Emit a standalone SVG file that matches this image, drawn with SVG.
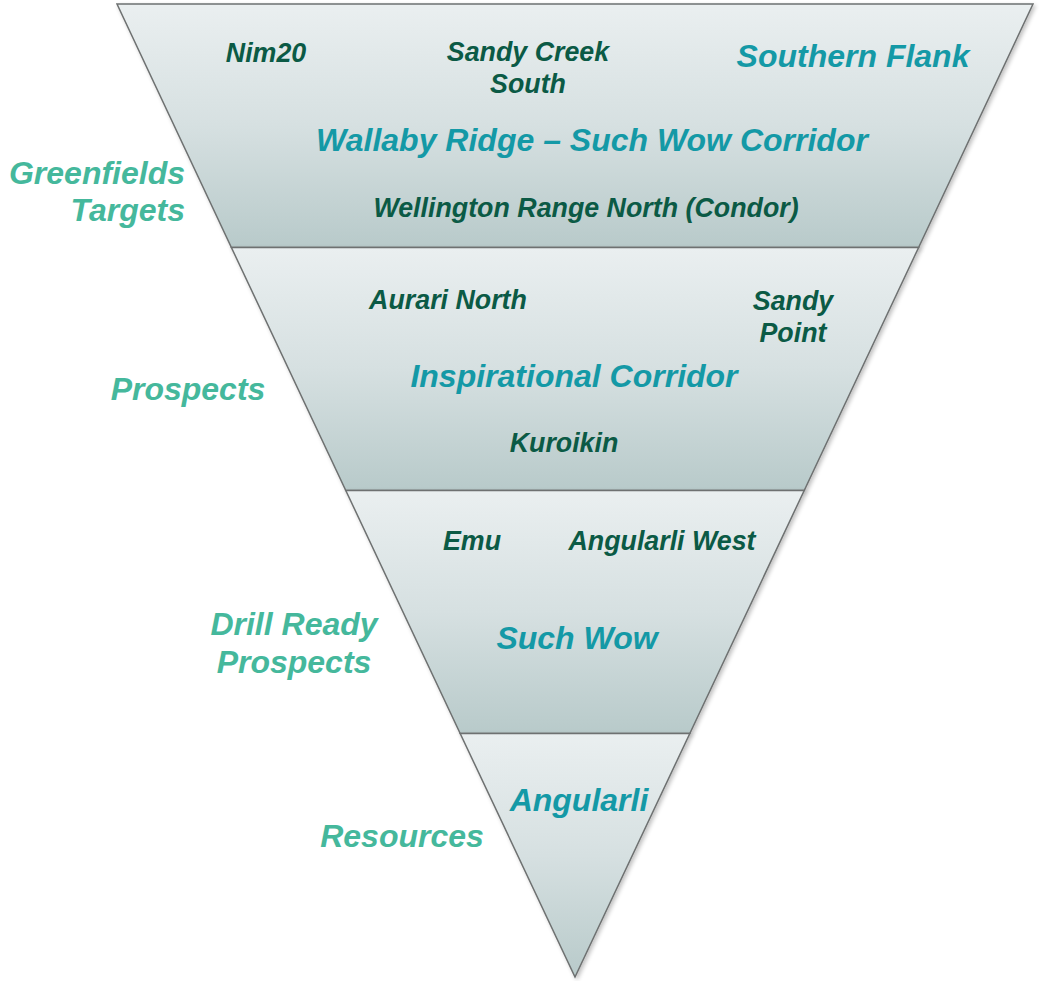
<svg xmlns="http://www.w3.org/2000/svg" width="1039" height="981" viewBox="0 0 1039 981">
  <defs>
    <linearGradient id="bandFill" x1="0" y1="0" x2="0" y2="1">
      <stop offset="0" stop-color="#eaeff0"/>
      <stop offset="0.5" stop-color="#d6e0e1"/>
      <stop offset="1" stop-color="#b8caca"/>
    </linearGradient>
    <filter id="soft" x="-5%" y="-5%" width="110%" height="115%">
      <feGaussianBlur in="SourceAlpha" stdDeviation="2"/>
      <feOffset dx="2" dy="2" result="b"/>
      <feComponentTransfer><feFuncA type="linear" slope="0.25"/></feComponentTransfer>
      <feMerge><feMergeNode/><feMergeNode in="SourceGraphic"/></feMerge>
    </filter>
  </defs>
  <style>
    text { font-family: "Liberation Sans", Arial, sans-serif; font-weight: bold; font-style: italic; }
    .band { fill: url(#bandFill); stroke: #6e7171; stroke-width: 1.5; filter: url(#soft); }
    .big { font-size: 32px; fill: #1499a6; text-anchor: middle; }
    .small { font-size: 26.8px; fill: #0b5a45; text-anchor: middle; }
    .side { font-size: 32px; fill: #45b89c; }
  </style>

  <!-- funnel bands, top to bottom -->
  <g id="band-greenfields">
    <polygon class="band" points="117,4 1033,4 918.6,247.5 231.4,247.5"/>
    <text class="small" x="266" y="62">Nim20</text>
    <text class="small" x="528" y="61">Sandy Creek</text>
    <text class="small" x="528" y="93">South</text>
    <text class="big" x="853" y="67">Southern Flank</text>
    <text class="big" x="592" y="151">Wallaby Ridge – Such Wow Corridor</text>
    <text class="small" x="586" y="217">Wellington Range North (Condor)</text>
  </g>
  <g id="band-prospects">
    <polygon class="band" points="231.4,247.5 918.6,247.5 804.2,490.5 345.8,490.5"/>
    <text class="small" x="448" y="309">Aurari North</text>
    <text class="small" x="793" y="310">Sandy</text>
    <text class="small" x="793" y="342">Point</text>
    <text class="big" x="574" y="387">Inspirational Corridor</text>
    <text class="small" x="564" y="452">Kuroikin</text>
  </g>
  <g id="band-drill-ready">
    <polygon class="band" points="345.8,490.5 804.2,490.5 689.8,733.5 460.2,733.5"/>
    <text class="small" x="472" y="550">Emu</text>
    <text class="small" x="662" y="550">Angularli West</text>
    <text class="big" x="577" y="649">Such Wow</text>
  </g>
  <g id="band-resources">
    <polygon class="band" points="460.2,733.5 689.8,733.5 575,977"/>
    <text class="big" x="579" y="811">Angularli</text>
  </g>

  <!-- stage labels -->
  <g id="stage-labels">
    <text class="side" x="185" y="184" text-anchor="end">Greenfields</text>
    <text class="side" x="185" y="221" text-anchor="end">Targets</text>
    <text class="side" x="188" y="400" text-anchor="middle">Prospects</text>
    <text class="side" x="294" y="635" text-anchor="middle">Drill Ready</text>
    <text class="side" x="294" y="673" text-anchor="middle">Prospects</text>
    <text class="side" x="402" y="847" text-anchor="middle">Resources</text>
  </g>

  <g id="connectors"/>
</svg>
